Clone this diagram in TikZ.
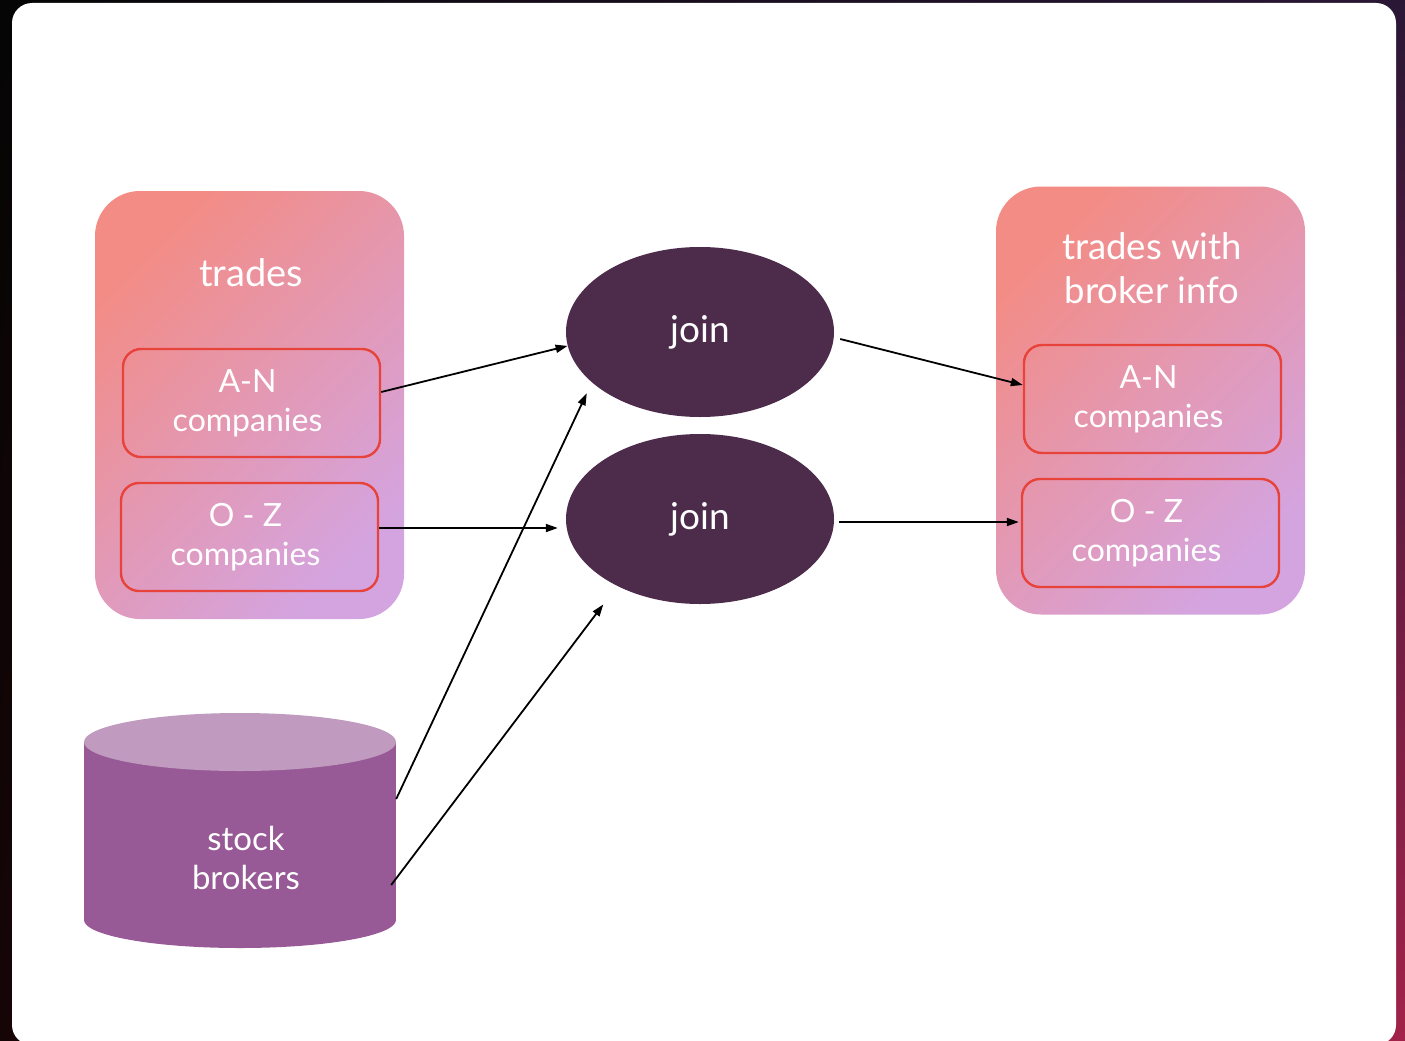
\documentclass[tikz,border=0pt]{standalone}
\usepackage{fontspec}
\setmainfont{Lato}
\usetikzlibrary{arrows.meta,shapes.geometric,shadings}

\definecolor{bgUL}{HTML}{050505}
\definecolor{bgUR}{HTML}{2A1736}
\definecolor{bgLL}{HTML}{160506}
\definecolor{bgLR}{HTML}{A2224A}
\definecolor{grpA}{HTML}{F38C85}
\definecolor{grpB}{HTML}{D4A4E0}
\definecolor{partred}{HTML}{E8433A}
\definecolor{joinc}{HTML}{4C2B4B}
\definecolor{cylbody}{HTML}{975A96}
\definecolor{cyltop}{HTML}{C09BBF}

\tikzset{
  group/.style={rounded corners=45pt, top color=grpA, bottom color=grpB,
    shading angle=45, minimum width=309pt, minimum height=428pt, inner sep=0pt},
  grouptitle/.style={text=white, align=center, inner sep=0pt},
  part/.style={draw=partred, line width=2.4pt, rounded corners=18pt,
    minimum width=257pt, minimum height=108pt, inner sep=0pt},
  parttext/.style={text=white, align=center, inner sep=0pt, xshift=-4pt,
    font=\fontsize{32pt}{39pt}\selectfont},
  joinop/.style={ellipse, fill=joinc, minimum width=268pt, minimum height=170pt,
    inner sep=0pt, text=white, font=\fontsize{37pt}{42pt}\selectfont},
  store/.style={minimum width=312pt, minimum height=150pt, inner sep=0pt,
    text=white, align=center, font=\fontsize{33pt}{39pt}\selectfont},
  flow/.style={-{Triangle[length=12pt,width=8pt]}, line width=1.8pt, black}
}

\begin{document}
\begin{tikzpicture}[x=1pt,y=-1pt]
\useasboundingbox (0,0) rectangle (1405,1041);

% backdrop and white card
\shade[upper left=bgUL, upper right=bgUR, lower left=bgLL, lower right=bgLR]
  (0,0) rectangle (1405,1041);
\fill[white, rounded corners=20pt] (12,3) rectangle (1396,1045);

% source table: trades
\node[group] (lt) at (249.5,405) {};
\node[grouptitle, font=\fontsize{38pt}{44pt}\selectfont] (ltt) at (251,273) {trades};
\node[part, label={[parttext]center:{A-N\\companies}}] (ltan) at (251.5,403) {};
\node[part, label={[parttext]center:{O - Z\\companies}}] (ltoz) at (249.5,537) {};

% result table: trades with broker info
\node[group] (rt) at (1150.5,400.5) {};
\node[grouptitle, font=\fontsize{36.5pt}{44pt}\selectfont] (rtt) at (1152,268) {trades with\\broker info};
\node[part, label={[parttext]center:{A-N\\companies}}] (rtan) at (1152.5,399) {};
\node[part, label={[parttext]center:{O - Z\\companies}}] (rtoz) at (1150.5,533) {};

% join operators
\node[joinop] (j1) at (700,332) {\raisebox{-2pt}{join}};
\node[joinop] (j2) at (700,519) {\raisebox{-2pt}{join}};

% stock brokers store
\fill[cylbody] (84,742) rectangle (396,920);
\fill[cylbody] (240,920) ellipse [x radius=156pt, y radius=28pt];
\fill[cyltop] (240,742) ellipse [x radius=156pt, y radius=29pt];
\node[store] (sb) at (246,858) {stock\\brokers};

% data flow
\draw[flow] ([yshift=11pt]ltan.east) -- (j1.186);
\draw[flow, shorten >=8pt] ([yshift=9pt]ltoz.east) -- ([yshift=-9pt]j2.west);
\draw[flow, shorten >=12pt] ([xshift=-6pt,yshift=59pt]sb.east) -- (j1.205);
\draw[flow, shorten >=23pt] ([xshift=-11pt,yshift=-27pt]sb.east) -- (j2.219);
\draw[flow] ([xshift=6pt,yshift=-7pt]j1.east) -- ([yshift=14pt]rtan.west);
\draw[flow] ([xshift=5pt,yshift=-3pt]j2.east) -- ([xshift=-2pt,yshift=11pt]rtoz.west);
\end{tikzpicture}
\end{document}
